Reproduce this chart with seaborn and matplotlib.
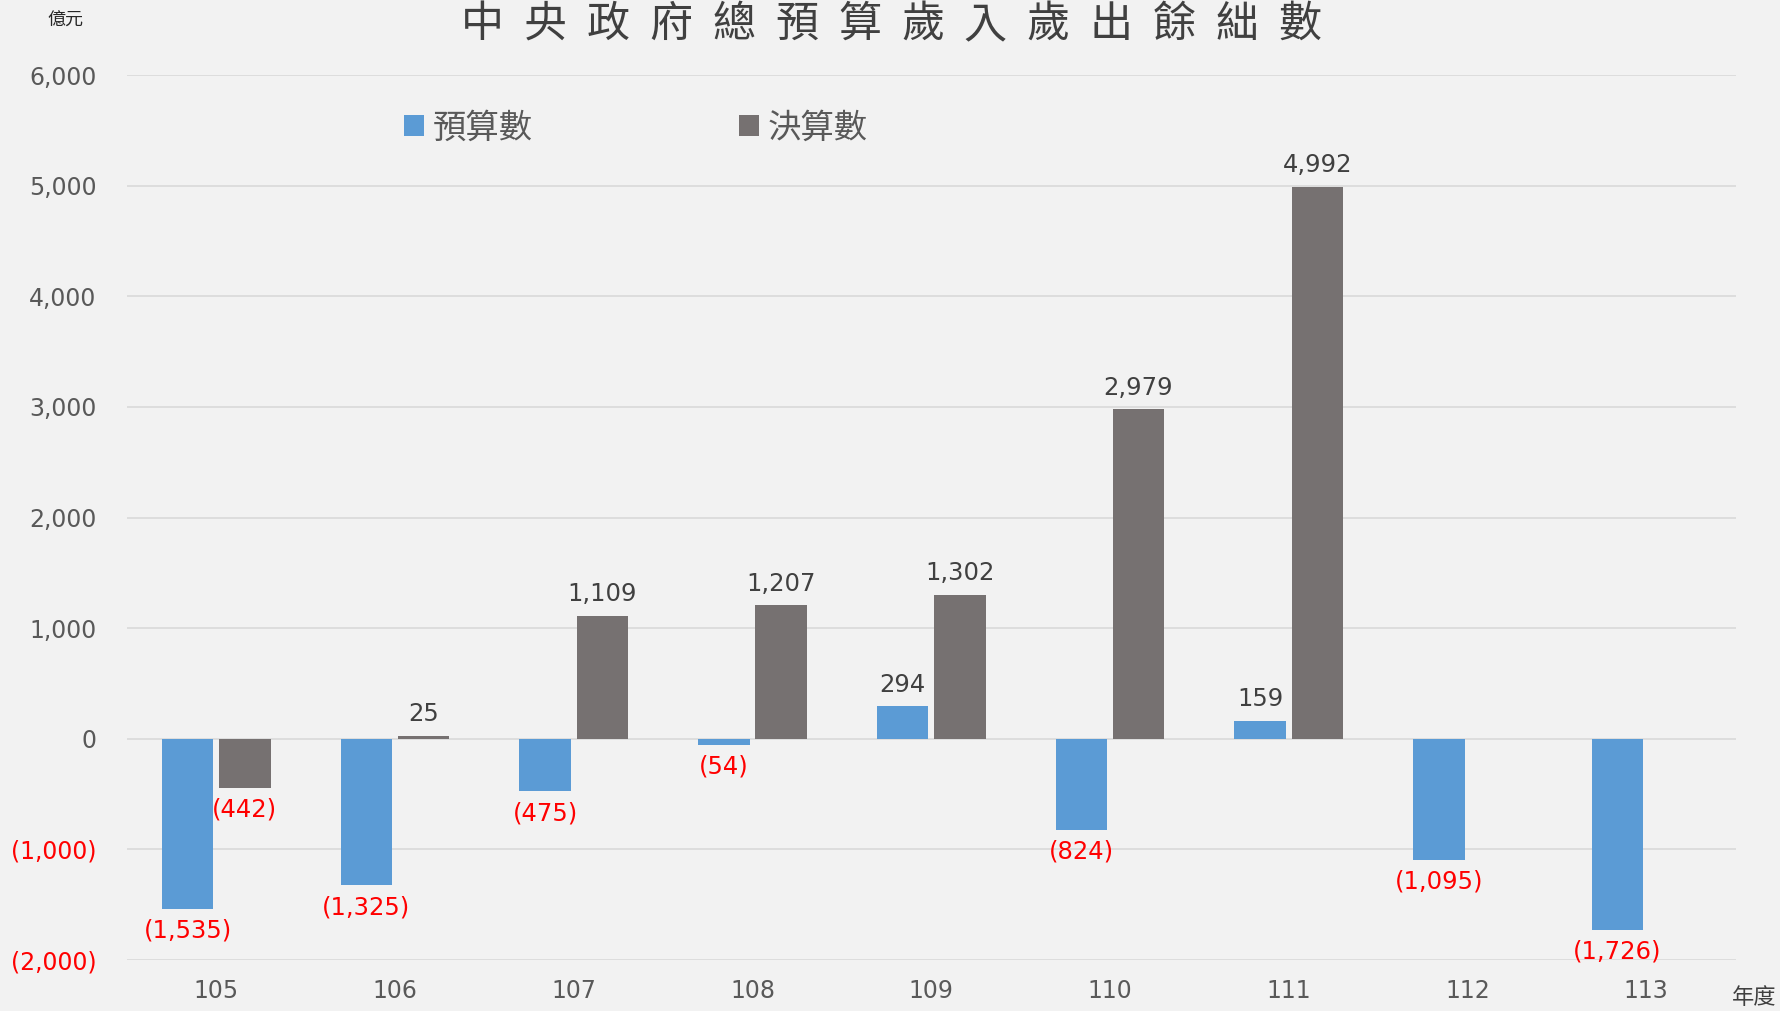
import numpy as np
import pandas as pd
import matplotlib
matplotlib.use('Agg')
import matplotlib.pyplot as plt
import seaborn as sns

# 資料
years = ['105', '106', '107', '108', '109', '110', '111', '112', '113']
budget = [-1535, -1325, -475, -54, 294, -824, 159, -1095, -1726]
final = [-442, 25, 1109, 1207, 1302, 2979, 4992, np.nan, np.nan]
series_names = ['預算數', '決算數']
y_ticks = [-2000, -1000, 0, 1000, 2000, 3000, 4000, 5000, 6000]
title_text = '中央政府總預算歲入歲出餘絀數'

df = pd.DataFrame({
    '年度': years * 2,
    '金額': budget + final,
    '類別': [series_names[0]] * len(years) + [series_names[1]] * len(years),
})
df = df.dropna()

sns.set_style('whitegrid')
plt.rcParams['font.family'] = ['DejaVu Sans', 'Noto Sans CJK TC']
cjk = ['Noto Sans CJK TC', 'DejaVu Sans']

bg = '#F2F2F2'
fig = plt.figure(figsize=(17.8, 10.11), dpi=100, facecolor=bg)
ax = fig.add_axes([0.0713, 0.0504, 0.9037, 0.8754])
ax.set_facecolor(bg)

sns.barplot(data=df, x='年度', y='金額', hue='類別', order=years,
            hue_order=series_names, palette=['#5B9BD5', '#767171'],
            width=0.64, gap=0.1, ax=ax, saturation=1, linewidth=0)

ax.set_xlim(-0.5, len(years) - 0.5)
ax.set_ylim(-2000, 6000)
ax.set_yticks(y_ticks)
ax.set_yticklabels([f'{v:,}' if v >= 0 else f'({-v:,})' for v in y_ticks])
for lbl, v in zip(ax.get_yticklabels(), y_ticks):
    lbl.set_color('red' if v < 0 else '#595959')
ax.tick_params(axis='y', labelsize=17, length=0, pad=22)
ax.tick_params(axis='x', labelsize=17, length=0, colors='#595959', pad=14)
ax.grid(axis='y', color='#D9D9D9', linewidth=1.2)
ax.grid(axis='x', visible=False)
for s in ax.spines.values():
    s.set_visible(False)
ax.set_xlabel('')
ax.set_ylabel('')

# 資料標籤
for cont in ax.containers:
    labels = []
    for p in cont:
        h = p.get_height()
        labels.append(f'{h:,.0f}' if h >= 0 else f'({-h:,.0f})')
    texts = ax.bar_label(cont, labels=labels, padding=7, fontsize=17.5)
    for t, p in zip(texts, cont):
        t.set_color('red' if p.get_height() < 0 else '#404040')

# 圖例
handles, labels = ax.get_legend_handles_labels()
ax.legend(handles, labels, loc='center left', bbox_to_anchor=(0.162, 0.94),
          ncol=2, frameon=False, prop={'family': cjk, 'size': 24},
          handlelength=0.6, handleheight=0.6, handletextpad=0.25,
          columnspacing=6.2, borderpad=0, labelcolor='#595959')

# 標題（字距拉開）
n = len(title_text)
x0, x1 = 482 / 1780, 1300 / 1780
for i, ch in enumerate(title_text):
    fig.text(x0 + (x1 - x0) * i / (n - 1), 1 - 25 / 1011, ch,
             ha='center', va='center', fontsize=31, color='#404040',
             family=cjk, fontweight='medium')

fig.text(65 / 1780, 1 - 21 / 1011, '億元', ha='center', va='center',
         fontsize=13, color='#262626', family=cjk)
fig.text(1754 / 1780, 1 - 997 / 1011, '年度', ha='center', va='center',
         fontsize=16, color='#404040', family=cjk)

fig.savefig('out.png', dpi=100, facecolor=bg)
